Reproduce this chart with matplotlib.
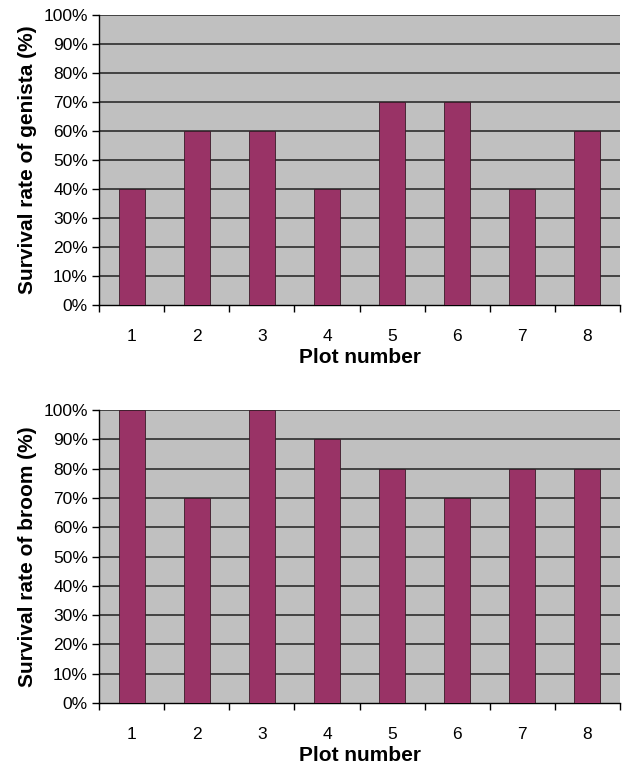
import matplotlib
matplotlib.use("Agg")
import matplotlib.pyplot as plt
from matplotlib.ticker import FixedLocator, NullFormatter

plt.rcParams['font.family'] = ['Liberation Sans', 'DejaVu Sans']

plots = [1, 2, 3, 4, 5, 6, 7, 8]
genista = [40, 60, 60, 40, 70, 70, 40, 60]
broom = [100, 70, 100, 90, 80, 70, 80, 80]
yticks = [0, 10, 20, 30, 40, 50, 60, 70, 80, 90, 100]

bar_color = '#993366'
bg_color = '#c0c0c0'

fig = plt.figure(figsize=(6.31, 7.63), dpi=100)
ax1 = fig.add_axes([0.157, 0.6003, 0.8256, 0.3797])
ax2 = fig.add_axes([0.157, 0.0786, 0.8256, 0.3840])


def draw(ax, values, ylabel):
    ax.set_facecolor(bg_color)
    x = list(range(len(plots)))
    ax.bar(x, values, width=0.4, color=bar_color, edgecolor='#3a1a28',
           linewidth=0.6, zorder=3)
    ax.set_xlim(-0.5, len(plots) - 0.5)
    ax.set_ylim(0, 100)
    ax.set_yticks(yticks)
    ax.set_yticklabels([f'{v}%' for v in yticks], fontsize=12.5)
    for v in yticks[1:]:
        ax.axhline(v, color='#202020', linewidth=1.1, zorder=1)
    ax.set_xticks(x)
    ax.set_xticklabels([str(p) for p in plots], fontsize=12.5)
    ax.xaxis.set_minor_locator(FixedLocator([i - 0.5 for i in range(len(plots) + 1)]))
    ax.xaxis.set_minor_formatter(NullFormatter())
    ax.tick_params(axis='x', which='major', length=0, pad=17)
    ax.tick_params(axis='x', which='minor', length=5, width=1, color='black')
    ax.tick_params(axis='y', length=5, width=1, color='black', pad=3)
    for s in ['top', 'right']:
        ax.spines[s].set_visible(False)
    ax.spines['left'].set_color('black')
    ax.spines['bottom'].set_color('black')
    ax.spines['left'].set_linewidth(1.0)
    ax.spines['bottom'].set_linewidth(1.0)
    ax.set_xlabel('Plot number', fontsize=15, fontweight='bold', labelpad=3)
    ax.set_ylabel(ylabel, fontsize=15, fontweight='bold', labelpad=5)


draw(ax1, genista, 'Survival rate of genista (%)')
draw(ax2, broom, 'Survival rate of broom (%)')

fig.savefig('out.png', dpi=100, facecolor='white')
